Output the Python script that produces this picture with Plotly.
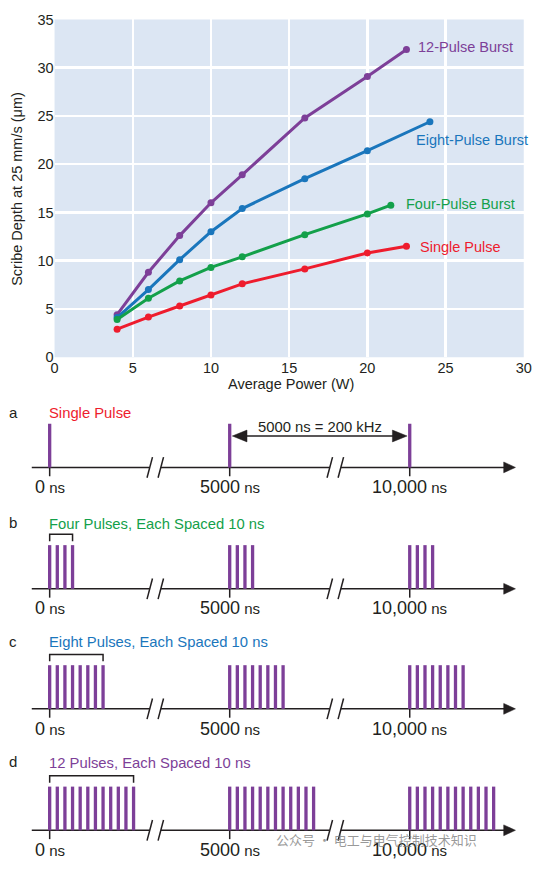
import plotly.graph_objects as go

# ---------------- Chart data ----------------
pulse12_power = [4, 6, 8, 10, 12, 16, 20, 22.5]
pulse12_depth = [4.4, 8.8, 12.6, 16.0, 18.9, 24.8, 29.1, 31.9]
pulse8_power = [4, 6, 8, 10, 12, 16, 20, 24]
pulse8_depth = [4.1, 7.0, 10.1, 13.0, 15.4, 18.5, 21.4, 24.4]
pulse4_power = [4, 6, 8, 10, 12, 16, 20, 21.5]
pulse4_depth = [3.9, 6.1, 7.9, 9.3, 10.4, 12.7, 14.85, 15.75]
single_power = [4, 6, 8, 10, 12, 16, 20, 22.5]
single_depth = [2.9, 4.15, 5.3, 6.45, 7.6, 9.15, 10.8, 11.5]

series_names = ["12-Pulse Burst", "Eight-Pulse Burst", "Four-Pulse Burst", "Single Pulse"]
series_x = [pulse12_power, pulse8_power, pulse4_power, single_power]
series_y = [pulse12_depth, pulse8_depth, pulse4_depth, single_depth]
series_colors = ["#7d3f98", "#1a76bc", "#13a04a", "#ee1c2d"]
label_x = [23.1, 22.96, 22.35, 23.22]
label_y = [32.1, 22.5, 15.84, 11.43]

x_ticks = [0, 5, 10, 15, 20, 25, 30]
y_ticks = [0, 5, 10, 15, 20, 25, 30, 35]
x_title = "Average Power (W)"
y_title = "Scribe Depth at 25 mm/s (μm)"

# ---------------- Pulse diagram data ----------------
panel_letters = ["a", "b", "c", "d"]
burst_sizes = [1, 4, 8, 12]
panel_titles = ["Single Pulse", "Four Pulses, Each Spaced 10 ns",
                "Eight Pulses, Each Spaced 10 ns", "12 Pulses, Each Spaced 10 ns"]
panel_title_colors = ["#ee1c2d", "#13a04a", "#1a76bc", "#7d3f98"]
burst_times_ns = [0, 5000, 10000]
time_labels = ["0", "5000", "10,000"]
pulse_spacing_ns = 10
period_ns = 5000
period_label = "5000 ns = 200 kHz"

# ---------------- layout constants (pixels) ----------------
W, H = 543, 870
FONT = "Liberation Sans, Arial, Helvetica, sans-serif"
DARK = "#231f20"
PURPLE = "#7d3f98"
BG = "#dce6f3"

plot_l, plot_r, plot_t, plot_b = 51.7, 531.5, 11.7, 355.7

# schematic (broken) time axis
origin_px = 46.7
period_px = 184.1
intra_px_per_ns = 0.78
row_base = [468.0, 591.7, 714.0, 837.7]
title_off = [-55.0, -66.5, -68.0, -68.7]
pulse_h = 44.5
axis_start = 28.4
arrow_base, arrow_tip, arrow_half = 511.0, 523.0, 5.5
break_off = 108.0
break_gap = 5.65


def tx(t_ns):
    k = int(t_ns // period_ns)
    return origin_px + k * period_px + (t_ns - k * period_ns) * intra_px_per_ns


fig = go.Figure()

# ---- chart traces ----
for name, xs, ys, col in zip(series_names, series_x, series_y, series_colors):
    fig.add_trace(go.Scatter(
        x=xs, y=ys, mode="lines+markers", name=name, showlegend=False,
        line=dict(color=col, width=3), marker=dict(color=col, size=7),
        xaxis="x", yaxis="y", cliponaxis=False, hoverinfo="skip"))

annotations = []
for name, lx, ly, col in zip(series_names, label_x, label_y, series_colors):
    annotations.append(dict(x=lx, y=ly, xref="x", yref="y", text=name, showarrow=False,
                            xanchor="left", yanchor="middle",
                            font=dict(family=FONT, size=14.5, color=col)))

# axis titles
annotations.append(dict(x=(plot_l + plot_r) / 2 / W + 0.004, y=1 - 383.3 / H, xref="paper", yref="paper",
                        text=x_title, showarrow=False, xanchor="center", yanchor="middle",
                        font=dict(family=FONT, size=14.5, color=DARK)))
annotations.append(dict(x=12.5 / W, y=1 - 184 / H, xref="paper", yref="paper",
                        text=y_title, showarrow=False, xanchor="center", yanchor="middle",
                        textangle=-90, font=dict(family=FONT, size=14.5, color=DARK)))

# ---- diagram traces ----
for r, n in enumerate(burst_sizes):
    base = row_base[r]
    # pulses
    px, py = [], []
    for t0 in burst_times_ns:
        for i in range(n):
            x = tx(t0 + i * pulse_spacing_ns)
            px += [x, x, None]
            py += [base, base - pulse_h, None]
    # axis with breaks
    brks = [tx(t0) + break_off for t0 in burst_times_ns[:-1]]
    ax_x = [axis_start, brks[0] - break_gap, None,
            brks[0] + break_gap, brks[1] - break_gap, None,
            brks[1] + break_gap, arrow_base + 1]
    ax_y = [base, base, None, base, base, None, base, base]
    for c in brks:
        for s in (-break_gap, break_gap):
            ax_x += [None, c + s - 2.8, c + s + 2.8]
            ax_y += [None, base + 10.5, base - 10.5]
    for t0 in burst_times_ns:
        ax_x += [None, tx(t0), tx(t0)]
        ax_y += [None, base, base + 9]
    fig.add_trace(go.Scatter(x=ax_x, y=ax_y, mode="lines", line=dict(color=DARK, width=1.5),
                             xaxis="x2", yaxis="y2", showlegend=False, hoverinfo="skip"))
    fig.add_trace(go.Scatter(x=[arrow_base, arrow_tip, arrow_base, arrow_base],
                             y=[base - arrow_half, base, base + arrow_half, base - arrow_half],
                             mode="lines", fill="toself", fillcolor=DARK, line=dict(color=DARK, width=0.5),
                             xaxis="x2", yaxis="y2", showlegend=False, hoverinfo="skip"))
    fig.add_trace(go.Scatter(x=px, y=py, mode="lines", line=dict(color=PURPLE, width=3.3),
                             xaxis="x2", yaxis="y2", showlegend=False, hoverinfo="skip"))
    # bracket over first burst
    if n > 1:
        b0, b1 = tx(0), tx((n - 1) * pulse_spacing_ns)
        fig.add_trace(go.Scatter(x=[b0, b0, b1, b1],
                                 y=[base - 48.5, base - 55.5, base - 55.5, base - 48.5],
                                 mode="lines", line=dict(color=DARK, width=1.5),
                                 xaxis="x2", yaxis="y2", showlegend=False, hoverinfo="skip"))
    # texts
    annotations.append(dict(x=9.5, y=base + title_off[r] - 1, xref="x2", yref="y2", text=panel_letters[r],
                            showarrow=False, xanchor="center", yanchor="middle",
                            font=dict(family=FONT, size=15, color=DARK)))
    annotations.append(dict(x=tx(0) - 3, y=base + title_off[r], xref="x2", yref="y2", text=panel_titles[r],
                            showarrow=False, xanchor="left", yanchor="middle",
                            font=dict(family=FONT, size=14.8, color=panel_title_colors[r])))
    for t0, lab in zip(burst_times_ns, time_labels):
        annotations.append(dict(x=tx(t0), y=base + 20, xref="x2", yref="y2",
                                text=f"<span style='font-size:18px'>{lab}</span> ns",
                                showarrow=False, xanchor="center", yanchor="middle",
                                font=dict(family=FONT, size=15, color=DARK)))

# period arrow in panel a
base = row_base[0]
xa, xb = tx(burst_times_ns[1]) + 2.7, tx(burst_times_ns[2]) - 2.7
ya = base - 32
fig.add_trace(go.Scatter(x=[xa + 10, xb - 10], y=[ya, ya], mode="lines", line=dict(color=DARK, width=1.5),
                         xaxis="x2", yaxis="y2", showlegend=False, hoverinfo="skip"))
for tip, back in ((xa, xa + 15), (xb, xb - 15)):
    fig.add_trace(go.Scatter(x=[back, tip, back, back], y=[ya - 6, ya, ya + 6, ya - 6], mode="lines",
                             fill="toself", fillcolor=DARK, line=dict(color=DARK, width=0.5),
                             xaxis="x2", yaxis="y2", showlegend=False, hoverinfo="skip"))
annotations.append(dict(x=(tx(burst_times_ns[1]) + tx(burst_times_ns[2])) / 2, y=base - 41.5,
                        xref="x2", yref="y2", text=period_label, showarrow=False,
                        xanchor="center", yanchor="middle", font=dict(family=FONT, size=14.8, color=DARK)))

# watermark
annotations.append(dict(x=276 / W, y=1 - 847 / H, xref="paper", yref="paper",
                        text="公众号 · 电工与电气控制技术知识", showarrow=False, xanchor="left", yanchor="middle",
                        font=dict(family="Noto Sans CJK SC", size=13, color="rgba(120,120,120,0.75)")))

fig.update_layout(
    width=W, height=H, autosize=False,
    margin=dict(l=0, r=0, t=0, b=0, pad=0),
    paper_bgcolor="white", plot_bgcolor="rgba(0,0,0,0)",
    font=dict(family=FONT, color=DARK),
    xaxis=dict(domain=[plot_l / W, plot_r / W], range=[0, 30], tickvals=x_ticks,
               showgrid=True, gridcolor="white", gridwidth=2.5, zeroline=False, showline=False,
               ticks="", tickfont=dict(family=FONT, size=14.5, color=DARK), anchor="y", fixedrange=True),
    yaxis=dict(domain=[1 - plot_b / H, 1 - plot_t / H], range=[0, 35], tickvals=y_ticks,
               showgrid=True, gridcolor="white", gridwidth=2.5, zeroline=False, showline=False,
               ticks="", tickfont=dict(family=FONT, size=14.5, color=DARK), anchor="x", fixedrange=True),
    xaxis2=dict(domain=[0, 1], range=[0, W], visible=False, anchor="y2", fixedrange=True),
    yaxis2=dict(domain=[0, 1 - 395 / H], range=[H, 395], visible=False, anchor="x2", fixedrange=True),
    shapes=[dict(type="rect", xref="x domain", yref="y domain", x0=0, x1=1, y0=0, y1=1,
                 fillcolor=BG, line=dict(width=0), layer="below")],
    annotations=annotations,
)

fig.write_html(
    "out.html",
    config={"displayModeBar": False, "staticPlot": True},
    post_script="document.body.style.margin='0';document.body.style.padding='0';"
                "document.documentElement.style.overflow='hidden';",
)
